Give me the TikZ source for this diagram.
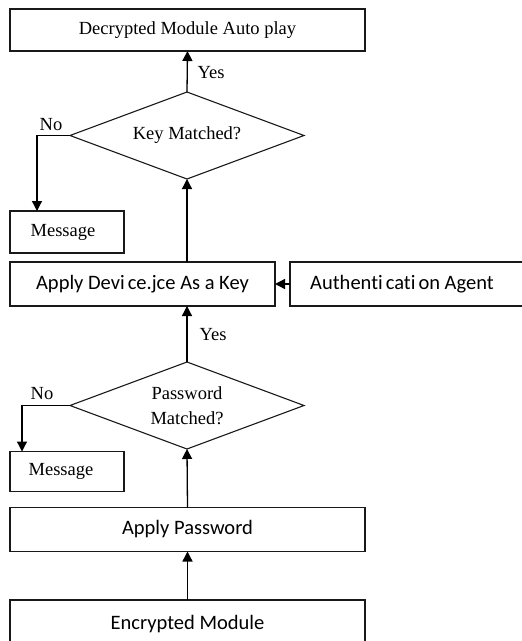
\documentclass[tikz,border=0pt]{standalone}
\usepackage{fontspec}
\setmainfont{Liberation Serif}
\newfontfamily\sansfam[Ligatures=NoCommon]{Carlito}
\usetikzlibrary{shapes.geometric,arrows.meta}

\tikzset{
  serif/.style={font=\fontsize{18.5}{25}\selectfont},
  sanstxt/.style={font=\sansfam\fontsize{20.5}{24}\selectfont},
  box/.style={draw=black!90, line width=1.3pt, rectangle, inner sep=0pt, outer sep=0pt},
  decision/.style={draw=black!90, line width=1.1pt, diamond, aspect=2.69,
    minimum width=234pt, minimum height=87pt, inner sep=0pt, outer sep=0pt,
    serif, align=center},
  arr/.style={draw=black, line width=1.3pt,
    -{Triangle[length=10pt,width=10pt]}},
  lbl/.style={serif, inner sep=0pt}
}
% small gap used inside the sans labels
\newcommand{\gp}{\kern3pt}

\begin{document}
\begin{tikzpicture}[x=1pt,y=-1pt]
  \useasboundingbox (0,0) rectangle (522,641);

  % process boxes
  \node[box, serif, minimum width=355pt, minimum height=42pt] (top) at (187.5,30)
    {Decrypted Module Auto play};
  \node[decision] (d1) at (187,135.5) {Key Matched?};
  \node[box, serif, minimum width=114pt, minimum height=42pt] (m1) at (67,232)
    {\hspace*{-8pt}Message};
  \node[box, sanstxt, minimum width=265pt, minimum height=44pt] (dev) at (142.5,284)
    {Apply Devi\gp ce.jce As a Key};
  \node[box, sanstxt, minimum width=236pt, minimum height=44pt] (auth) at (408,284)
    {\hspace*{-12pt}Authenti\gp cati\gp on Agent};
  \node[decision] (d2) at (187,405.5) {Password\\Matched?};
  \node[box, serif, minimum width=114pt, minimum height=40pt] (m2) at (67,471.5)
    {\hspace*{-12pt}Message};
  \node[box, sanstxt, minimum width=355pt, minimum height=44pt] (ap) at (187.5,529.5)
    {Apply Password};
  \node[box, sanstxt, minimum width=355pt, minimum height=48pt] (enc) at (187.5,624)
    {\raisebox{1pt}{Encrypted Module}};

  % free ends of the "No" branches
  \coordinate (n1) at ([xshift=27pt]m1.north west);
  \coordinate (n2) at ([xshift=12pt]m2.north west);

  % connectors
  \draw[arr] (enc.north) -- (ap.south);
  \draw[arr] (ap.north) -- (d2.south);
  \draw[arr] (d2.north) -- (d2.north |- dev.south);
  \draw[arr] (auth.west) -- (dev.east);
  \draw[arr] (d1.south |- dev.north) -- (d1.south);
  \draw[arr] (d1.north) -- (top.south);
  \draw[arr] (d1.west) -| (n1);
  \draw[arr] (d2.west) -| (n2);

  % branch labels
  \node[lbl] (y1) at (211,73) {Yes};
  \node[lbl] (y2) at (213,335) {Yes};
  \node[lbl] (no1) at (51,125) {No};
  \node[lbl] (no2) at (42,394) {No};
\end{tikzpicture}
\end{document}
